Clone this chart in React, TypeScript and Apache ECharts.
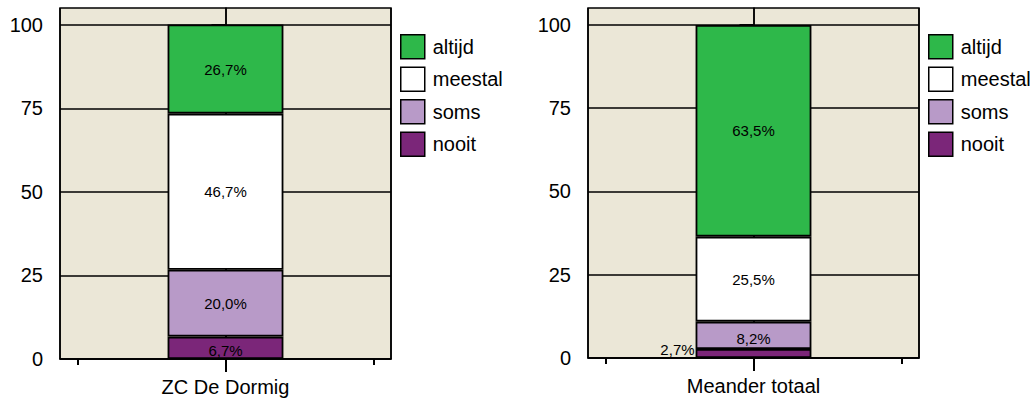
import React, { useEffect, useRef } from "react";
import * as echarts from "echarts";

const panels = ["ZC De Dormig", "Meander totaal"];
const seriesNames = ["nooit", "soms", "meestal", "altijd"];
const legendOrder = ["altijd", "meestal", "soms", "nooit"];
const colors = ["#7b2679", "#b89ac8", "#ffffff", "#2eb84a"];
// values per panel, bottom to top: nooit, soms, meestal, altijd
const dormig = [6.7, 20.0, 46.7, 26.7];
const meander = [2.7, 8.2, 25.5, 63.5];
const panelValues = [dormig, meander];
const yTicks = [0, 25, 50, 75, 100];
const sideTicks = [-1, 1];

const FONT = "'Liberation Sans', Arial, Helvetica, sans-serif";

export default function App() {
  const ref = useRef<HTMLDivElement>(null);
  useEffect(() => {
    if (!ref.current) return;
    const chart = echarts.init(ref.current, null, { renderer: "svg" });
    const grids = [
      { left: 60, top: 8, width: 331, height: 351 },
      { left: 588, top: 8, width: 331, height: 350 },
    ];
    const xAxis: any[] = [];
    const yAxis: any[] = [];
    const series: any[] = [];
    panels.forEach((p, gi) => {
      xAxis.push({
        type: "category",
        gridIndex: gi,
        data: [p],
        axisLine: { show: true, lineStyle: { color: "#000", width: 1.5 } },
        axisTick: { show: true, alignWithLabel: true, length: 13, lineStyle: { color: "#000", width: 2 } },
        axisLabel: { color: "#000", fontSize: 20, margin: 18, fontFamily: FONT },
        splitLine: { show: false },
      });
      // center vertical grid line
      xAxis.push({
        type: "value",
        gridIndex: gi,
        position: "bottom",
        min: -1.118,
        max: 1.118,
        interval: 1.118,
        axisLine: { show: false },
        axisLabel: { show: false },
        axisTick: { show: false },
        splitLine: { show: true, lineStyle: { color: "#000", width: 1.5 } },
      });
      // minor side ticks
      xAxis.push({
        type: "value",
        gridIndex: gi,
        position: "bottom",
        min: -1.118,
        max: 1.118,
        interval: 1.118,
        axisLine: { show: false },
        axisLabel: { show: false },
        axisTick: { show: true, customValues: sideTicks, length: 6, lineStyle: { color: "#000", width: 2 } },
        splitLine: { show: false },
      });
      yAxis.push({
        type: "value",
        gridIndex: gi,
        min: 0,
        max: 105,
        interval: 25,
        axisLine: { show: true, lineStyle: { color: "#000", width: 1.5 } },
        axisTick: { show: true, customValues: yTicks, length: 14, lineStyle: { color: "#000", width: 2 } },
        axisLabel: {
          customValues: yTicks,
          color: "#000",
          fontSize: 20,
          margin: 17,
          fontFamily: FONT,
          formatter: (v: number) => (v % 25 === 0 ? String(v) : ""),
        },
        splitLine: { show: true, lineStyle: { color: "#000", width: 1.5 } },
      });
      seriesNames.forEach((name, si) => {
        const v = panelValues[gi][si];
        const small = v < 5;
        series.push({
          type: "bar",
          name,
          stack: "p" + gi,
          xAxisIndex: gi * 3,
          yAxisIndex: gi,
          barWidth: "35%",
          z: 3,
          itemStyle: { color: colors[si], borderColor: "#000", borderWidth: 1.8 },
          label: {
            show: true,
            position: small ? "left" : "inside",
            distance: 1,
            offset: small ? [0, -4] : v < 10 ? [0, 3] : [0, 0],
            color: "#000",
            fontSize: 15,
            fontFamily: FONT,
            formatter: (d: any) => d.value.toFixed(1).replace(".", ",") + "%",
          },
          data: [v],
        });
      });
    });
    const legendBase = {
      orient: "vertical",
      top: 34,
      padding: 0,
      itemWidth: 24,
      itemHeight: 24,
      itemGap: 7,
      icon: "rect",
      data: legendOrder,
      selectedMode: false,
      itemStyle: { borderColor: "#000", borderWidth: 1.5 },
      textStyle: { color: "#000", fontSize: 20, lineHeight: 24, fontFamily: FONT, padding: [0, 0, 0, 3] },
    };
    chart.setOption({
      animation: false,
      backgroundColor: "#fff",
      textStyle: { fontFamily: FONT },
      grid: grids.map((g) => ({
        ...g,
        show: true,
        backgroundColor: "#ebe7d7",
        borderColor: "#000",
        borderWidth: 1.5,
        containLabel: false,
      })),
      legend: [
        { ...legendBase, left: 400 },
        { ...legendBase, left: 928 },
      ],
      xAxis,
      yAxis,
      series,
    });
    return () => chart.dispose();
  }, []);
  return (
    <div
      ref={ref}
      style={{ position: "fixed", left: 0, top: 0, width: 1036, height: 403 }}
    />
  );
}
